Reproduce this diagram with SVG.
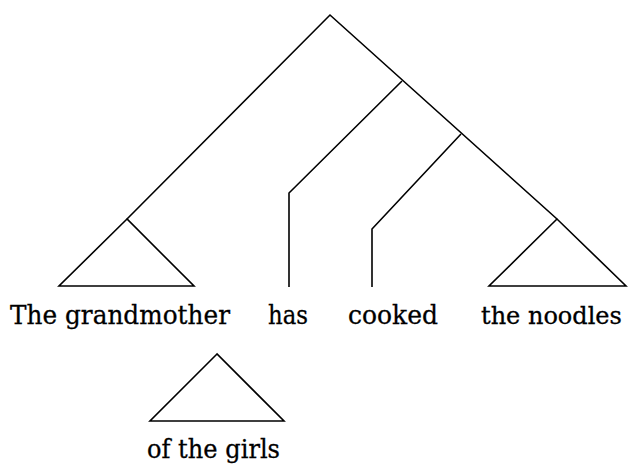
<svg xmlns="http://www.w3.org/2000/svg" width="632" height="464" viewBox="0 0 632 464">
<style>
.l{fill:none;stroke:#000;stroke-width:1.6;stroke-linejoin:miter}
.t{font-family:"DejaVu Serif","Liberation Serif",serif;font-size:26px;fill:#000;stroke:#000;stroke-width:0.3}
</style>
<rect width="632" height="464" fill="#fff"/>
<g id="connectors">
<polyline class="l" points="127,219 330,15 557,219"/>
<polyline class="l" points="289,287 289,193 402,81"/>
<polyline class="l" points="372,287 372,229 461,134"/>
</g>
<g id="np-grandmother">
<polygon class="l" points="127,219 59,286 194,286"/>
<text class="t" x="10" y="324" textLength="220" lengthAdjust="spacingAndGlyphs">The grandmother</text>
</g>
<g id="v-has">
<text class="t" x="268" y="324" textLength="40" lengthAdjust="spacingAndGlyphs">has</text>
</g>
<g id="v-cooked">
<text class="t" x="348" y="324" textLength="90" lengthAdjust="spacingAndGlyphs">cooked</text>
</g>
<g id="np-noodles">
<polygon class="l" points="557,219 489,286 626,286"/>
<text class="t" x="481" y="324" style="font-size:24px">the noodles</text>
</g>
<g id="pp-girls">
<polygon class="l" points="217,354 150,421 284,421"/>
<text class="t" x="147" y="458" textLength="133" lengthAdjust="spacingAndGlyphs">of the girls</text>
</g>
</svg>
